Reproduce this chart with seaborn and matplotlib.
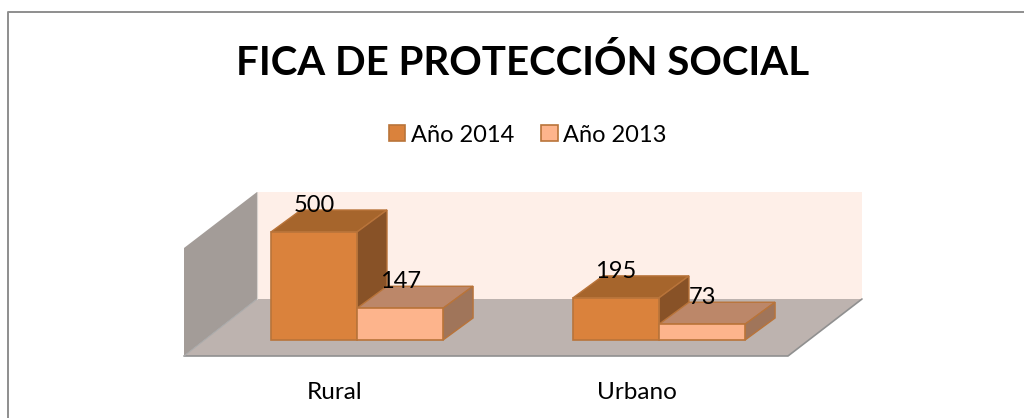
import matplotlib
matplotlib.use("Agg")
import matplotlib.pyplot as plt
from matplotlib.patches import Polygon, Rectangle
from matplotlib.transforms import IdentityTransform, ScaledTranslation
import pandas as pd
import seaborn as sns

categories = ["Rural", "Urbano"]
series_names = ["Año 2014", "Año 2013"]
values_2014 = [500, 195]
values_2013 = [147, 73]
title = "FICA DE PROTECCIÓN SOCIAL"

W, H = 1024, 418
FACE = {"Año 2014": "#DA823C", "Año 2013": "#FDB48C"}
TOP = {"Año 2014": "#A6652C", "Año 2013": "#BC8769"}
SIDE = {"Año 2014": "#885227", "Año 2013": "#A0755A"}
EDGE = "#B9743A"
DEPTH = (30, 22)

sns.set_theme(style="white", rc={"font.family": ["Lato", "DejaVu Sans"]})
plt.rcParams["font.family"] = ["Lato", "DejaVu Sans"]

fig = plt.figure(figsize=(W / 100, H / 100), dpi=100, facecolor="white")
ident = IdentityTransform()


def px(points):
    return [(x, H - y) for x, y in points]


def backdrop(points, color):
    fig.add_artist(Polygon(px(points), closed=True, transform=ident, facecolor=color,
                           edgecolor="none", lw=0, zorder=-5))


# chart frame: only its top and left edges fall inside the crop
fig.add_artist(plt.Line2D(*zip(*px([(7.5, H), (7.5, 12), (W, 12)])), transform=ident,
                          color="#8E8E8E", lw=1.4, zorder=-10))
backdrop([(257, 192), (862, 192), (862, 299), (257, 299)], "#FEEFE8")
backdrop([(184, 248), (257, 192), (257, 299), (184, 356)], "#A39C98")
backdrop([(184, 356), (257, 299), (862, 299), (788, 356)], "#BDB3AF")
fig.add_artist(plt.Line2D(*zip(*px([(184, 356), (788, 356), (862, 299)])), transform=ident,
                          color="#909090", lw=1.2, zorder=-4))
fig.add_artist(plt.Line2D(*zip(*px([(184, 356), (257, 299)])), transform=ident,
                          color="#AAAAAA", lw=0.8, zorder=-4))
fig.add_artist(plt.Line2D(*zip(*px([(257, 192), (257, 299)])), transform=ident,
                          color="#D8D2CE", lw=0.8, zorder=-4))

df = pd.DataFrame({
    "categoria": categories * 2,
    "serie": [series_names[0]] * 2 + [series_names[1]] * 2,
    "valor": values_2014 + values_2013,
})

# axes sit in the plane of the bars' front faces: 0 at y=340 px, 0.216 px per unit
ax = fig.add_axes([206 / W, (H - 340) / H, 604 / W, 148 / H])
ax.patch.set_alpha(0)
sns.barplot(data=df, x="categoria", y="valor", hue="serie", hue_order=series_names,
            palette=FACE, width=0.57, gap=0, dodge=True, legend=False, ax=ax,
            edgecolor=EDGE, linewidth=1.2, saturation=1, zorder=5, errorbar=None)
ax.set_xlim(-0.5, 1.5)
ax.set_ylim(0, 148 / 0.216)
ax.set_xlabel("")
ax.set_ylabel("")
ax.set_yticks([])
ax.tick_params(axis="x", length=0, labelsize=17.5, pad=30, labelcolor="black")
shift = ScaledTranslation(-22 / 100, 0, fig.dpi_scale_trans)
for lab in ax.get_xticklabels():
    lab.set_transform(lab.get_transform() + shift)
for s in ax.spines.values():
    s.set_visible(False)
fig.canvas.draw()

dx, dy = DEPTH
for k, (name, container) in enumerate(zip(series_names, ax.containers)):
    for bar in container:
        bar.set_clip_on(False)
        (x0, y0), (x1, y1) = ax.transData.transform(
            [(bar.get_x(), 0), (bar.get_x() + bar.get_width(), bar.get_height())])
        ax.add_patch(Polygon([(x0, y1), (x1, y1), (x1 + dx, y1 + dy), (x0 + dx, y1 + dy)],
                             transform=ident, facecolor=TOP[name], edgecolor=EDGE, lw=1,
                             clip_on=False, zorder=2 + k))
        ax.add_patch(Polygon([(x1, y0), (x1, y1), (x1 + dx, y1 + dy), (x1 + dx, y0 + dy)],
                             transform=ident, facecolor=SIDE[name], edgecolor=EDGE, lw=1,
                             clip_on=False, zorder=2 + k))
    ax.bar_label(container, labels=[f"{v:.0f}" for v in container.datavalues], padding=11.5,
                 fontsize=17, color="black", zorder=8, clip_on=False)

fig.text(523 / W, 1 - 63 / H, title, ha="center", va="center", fontsize=29, fontweight="bold",
         color="black")

# legend
handles = [Rectangle((0, 0), 1, 1, facecolor=FACE[n], edgecolor=EDGE, lw=1.2) for n in series_names]
fig.legend(handles, series_names, loc="center", bbox_to_anchor=(528 / W, 1 - 135 / H), ncol=2,
           frameon=False, fontsize=17, handlelength=0.68, handleheight=0.68,
           handletextpad=0.25, columnspacing=1.15, labelcolor="black")

fig.savefig("out.png", dpi=100)
